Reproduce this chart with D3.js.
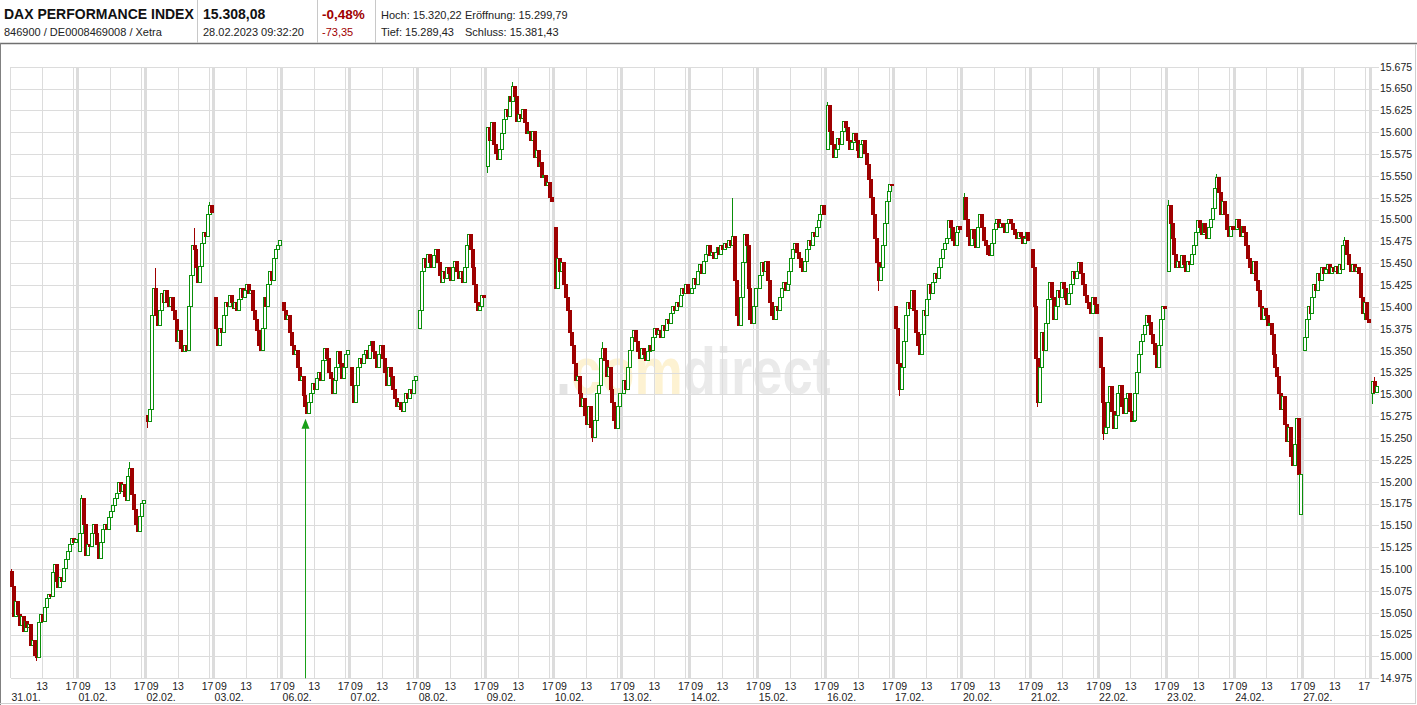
<!DOCTYPE html>
<html><head><meta charset="utf-8">
<script src="https://cdn.jsdelivr.net/npm/d3@7"></script>
<style>
html,body{margin:0;padding:0;background:#fff;}
svg{display:block;font-family:Arial,"Liberation Sans",sans-serif;}
</style></head><body>
<svg id="c" width="1417" height="705"></svg>
<script>
// ---------------- DATA ----------------
const dayLabels = ["31.01.","01.02.","02.02.","03.02.","06.02.","07.02.","08.02.","09.02.","10.02.","13.02.","14.02.","15.02.","16.02.","17.02.","20.02.","21.02.","22.02.","23.02.","24.02.","27.02.","28.02."];
const dayOpens = [15097,15120,15275,15410,15405,15330,15375,15560,15490,15300,15415,15420,15580,15400,15500,15465,15365,15440,15488,15350,15300];
// 15-minute closes per trading day (09:00 - 17:30)
const day00 = [15080,15045,15062,15048,15035,15045,15028,15040,15032,15036,15012,15018,15000,14998,15038,15048,15040,15055,15066,15070,15068,15095,15105,15085,15078,15090,15085,15100,15110,15120,15128,15135,15130,15133];
const day01 = [15140,15180,15150,15115,15128,15125,15140,15150,15140,15128,15112,15130,15145,15150,15145,15158,15165,15172,15180,15186,15198,15188,15196,15182,15178,15205,15215,15185,15168,15150,15142,15160,15175,15178];
const day02 = [15268,15282,15390,15420,15390,15378,15395,15415,15405,15418,15405,15400,15410,15395,15385,15360,15372,15352,15348,15355,15350,15400,15435,15470,15465,15445,15428,15446,15472,15485,15480,15505,15515,15508];
const day03 = [15375,15355,15375,15370,15390,15405,15400,15412,15405,15398,15405,15395,15408,15420,15410,15418,15425,15415,15418,15395,15385,15372,15355,15350,15375,15410,15400,15425,15440,15430,15455,15465,15470,15475];
const day04 = [15395,15385,15390,15370,15355,15345,15350,15330,15315,15320,15298,15285,15278,15290,15300,15312,15305,15318,15325,15315,15338,15352,15340,15325,15318,15300,15315,15330,15348,15335,15318,15330,15345,15350];
const day05 = [15310,15290,15310,15330,15340,15335,15345,15350,15340,15355,15360,15348,15340,15330,15345,15355,15340,15325,15310,15330,15320,15305,15295,15285,15290,15282,15280,15290,15300,15295,15305,15300,15315,15320];
const day06 = [15395,15440,15455,15445,15460,15450,15445,15458,15465,15450,15435,15428,15440,15432,15445,15438,15430,15445,15452,15440,15432,15440,15428,15445,15470,15482,15465,15445,15425,15405,15395,15400,15412,15410];
const day07 = [15605,15590,15610,15585,15575,15568,15580,15598,15614,15625,15618,15640,15635,15652,15640,15612,15620,15615,15625,15610,15598,15600,15590,15600,15570,15578,15560,15565,15548,15550,15538,15542,15525,15520];
const day08 = [15420,15455,15440,15450,15425,15410,15395,15370,15355,15335,15315,15320,15300,15285,15295,15275,15265,15285,15262,15250,15270,15300,15310,15340,15352,15338,15320,15330,15305,15290,15270,15260,15285,15300];
const day09 = [15315,15305,15330,15350,15365,15372,15360,15348,15340,15352,15345,15338,15348,15355,15350,15365,15375,15368,15372,15365,15378,15372,15385,15380,15392,15400,15395,15405,15400,15412,15420,15415,15425,15415];
const day10 = [15420,15432,15425,15440,15448,15438,15452,15460,15470,15458,15462,15455,15462,15468,15460,15470,15465,15472,15468,15475,15470,15480,15430,15390,15378,15410,15450,15482,15470,15420,15385,15380,15400,15420];
const day11 = [15435,15450,15440,15452,15430,15405,15390,15385,15400,15395,15410,15420,15428,15418,15425,15440,15455,15465,15472,15462,15455,15445,15440,15452,15465,15475,15470,15485,15480,15490,15498,15505,15515,15505];
const day12 = [15630,15600,15585,15570,15580,15592,15585,15600,15612,15605,15590,15580,15588,15598,15590,15578,15570,15585,15590,15575,15562,15545,15525,15505,15478,15450,15430,15445,15470,15495,15520,15532,15540,15538];
const day13 = [15375,15335,15305,15330,15360,15390,15405,15398,15418,15395,15370,15355,15345,15368,15395,15390,15408,15425,15415,15428,15438,15432,15445,15455,15465,15472,15478,15498,15490,15475,15470,15485,15492,15488];
const day14 = [15525,15500,15480,15470,15488,15478,15468,15490,15505,15490,15475,15470,15460,15458,15472,15488,15495,15500,15490,15495,15492,15485,15495,15500,15495,15488,15482,15478,15485,15480,15472,15478,15485,15475];
const day15 = [15445,15400,15340,15290,15330,15370,15350,15380,15408,15428,15410,15385,15400,15418,15410,15428,15420,15408,15402,15415,15425,15440,15432,15440,15450,15438,15425,15412,15405,15398,15392,15410,15402,15392];
const day16 = [15330,15290,15255,15262,15290,15308,15280,15260,15275,15300,15310,15285,15278,15295,15300,15280,15268,15270,15300,15325,15345,15360,15368,15378,15390,15382,15368,15358,15345,15330,15355,15385,15400,15398];
const day17 = [15515,15495,15478,15460,15445,15452,15445,15458,15448,15440,15452,15448,15460,15470,15485,15498,15490,15482,15495,15485,15478,15490,15500,15512,15535,15548,15530,15505,15520,15505,15488,15480,15492,15488];
const day18 = [15500,15490,15480,15492,15485,15470,15455,15445,15438,15452,15430,15418,15400,15385,15398,15390,15378,15380,15368,15345,15330,15320,15300,15282,15297,15265,15245,15262,15228,15218,15242,15272,15208,15208];
const day19 = [15365,15385,15400,15392,15410,15425,15418,15438,15430,15445,15438,15442,15448,15438,15445,15440,15446,15438,15448,15442,15470,15475,15460,15448,15440,15448,15440,15445,15438,15410,15392,15405,15385,15382];
const day20 = [15314,15302,15308];
const dayCloses = [day00,day01,day02,day03,day04,day05,day06,day07,day08,day09,day10,day11,day12,day13,day14,day15,day16,day17,day18,day19,day20];
// sparse wicks: [day, candle, high, low]
const wicks = [[0,0,15100,null],[0,13,null,14995],[1,1,15185,null],[1,26,15222,null],[2,0,null,15262],[2,4,15445,null],[2,24,15490,null],[2,32,15520,null],
  [7,0,null,15553],[7,13,15658,null],[8,0,15490,null],[8,19,null,15246],[8,24,15360,null],[10,21,15525,null],[12,0,15635,null],[12,26,null,15418],
  [13,2,null,15298],[14,0,15530,null],[15,3,null,15285],[16,2,null,15248],[17,0,15522,null],[17,25,15552,null],[19,21,15480,null],[19,31,null,15385],
  [20,0,null,15289],[20,1,15320,null]];
// candles whose open differs from the previous close: [day, candle, open]
const openOverrides = [[18,33,15162]];
const yTicks = [14975,15000,15025,15050,15075,15100,15125,15150,15175,15200,15225,15250,15275,15300,15325,15350,15375,15400,15425,15450,15475,15500,15525,15550,15575,15600,15625,15650,15675];
const hourTicks = [["13",16],["17",32]];
const openLabel = "09";
const arrowMark = {day:4, slot:12, value:15272};
const headerLeft = ["DAX PERFORMANCE INDEX","846900 / DE0008469008 / Xetra"];
const headerPrice = ["15.308,08","28.02.2023 09:32:20"];
const headerChange = ["-0,48%","-73,35"];
const headerStats = [["Hoch: 15.320,22","Eröffnung: 15.299,79"],["Tief: 15.289,43","Schluss: 15.381,43"]];
const watermark = [".","com","direct"];

// ---------------- CHART ----------------
const svg = d3.select("#c");
const S = 68.04/1.9375;         // slots per day incl. overnight gap
const x = d3.scaleLinear().domain([0, 20*S]).range([10.5, 10.5 + 20*68.04]);
const y = d3.scaleLinear().domain([14975, 15675]).range([678.3, 66.7]);
const plotL = 10.5, plotR = 1379, plotT = y(15675), plotB = y(14975);
const RED = "#9e0000", GREEN = "#0a8f0a", GRID = "#dcdcdc";
const FONT = "Arial,'Liberation Sans',sans-serif";

// frame
svg.append("rect").attr("x",0).attr("y",0).attr("width",1417).attr("height",705).attr("fill","#fff");
svg.append("line").attr("x1",0).attr("x2",1417).attr("y1",43.5).attr("y2",43.5).attr("stroke","#707070").attr("stroke-width",1.5);
svg.append("line").attr("x1",0.5).attr("x2",0.5).attr("y1",43).attr("y2",705).attr("stroke","#808080");
svg.append("line").attr("x1",1415.5).attr("x2",1415.5).attr("y1",44).attr("y2",704).attr("stroke","#d0d0d0");
svg.append("line").attr("x1",0).attr("x2",1416).attr("y1",703.5).attr("y2",703.5).attr("stroke","#d0d0d0");

// header
const hd = svg.append("g");
[197.5,317.5,375.5].forEach(px=>hd.append("line").attr("x1",px).attr("x2",px).attr("y1",0).attr("y2",43).attr("stroke","#c8c8c8"));
hd.append("text").attr("x",4).attr("y",19).attr("font-size",14).attr("font-weight","bold").attr("fill","#111").text(headerLeft[0]);
hd.append("text").attr("x",4).attr("y",36).attr("font-size",11).attr("fill","#222").text(headerLeft[1]);
hd.append("text").attr("x",203).attr("y",19).attr("font-size",14).attr("font-weight","bold").attr("fill","#111").text(headerPrice[0]);
hd.append("text").attr("x",203).attr("y",36).attr("font-size",11).attr("fill","#222").text(headerPrice[1]);
hd.append("text").attr("x",322).attr("y",19).attr("font-size",13.5).attr("font-weight","bold").attr("fill","#a00000").text(headerChange[0]);
hd.append("text").attr("x",322).attr("y",36).attr("font-size",11).attr("fill","#a00000").text(headerChange[1]);
headerStats.forEach((row,i)=>{
  hd.append("text").attr("x",381).attr("y",19+17*i).attr("font-size",11).attr("fill","#222").text(row[0]);
  hd.append("text").attr("x",465).attr("y",19+17*i).attr("font-size",11).attr("fill","#222").text(row[1]);
});

// watermark: three horizontally condensed pieces laid side by side
const wmX = [556, 571.1, 682.8], wmFill = ["#e4e4e4","#fdf2d2","#eaeaea"];
watermark.forEach((t,i)=>{
  svg.append("text").attr("transform",`translate(${wmX[i]},394) scale(0.823,1)`)
    .attr("font-size",66).attr("font-weight","bold").attr("fill",wmFill[i]).text(t);
});

// grid
const grid = svg.append("g").attr("shape-rendering","crispEdges");
yTicks.forEach(v=>{
  const py = Math.round(y(v))+0.5;
  grid.append("line").attr("x1",plotL).attr("x2",plotR).attr("y1",py).attr("y2",py).attr("stroke",GRID);
});
grid.append("line").attr("x1",plotL).attr("x2",plotL).attr("y1",plotT).attr("y2",plotB).attr("stroke",GRID);
for (let d=0; d<20; d++){
  hourTicks.forEach(([lab,slot])=>{
    const px = Math.round(x(d*S+slot))+0.5;
    grid.append("line").attr("x1",px).attr("x2",px).attr("y1",plotT).attr("y2",plotB).attr("stroke",GRID);
  });
  const bc = x(d*S + 34 + (S-34)/2);
  grid.append("rect").attr("x",Math.round(bc-1.5)).attr("y",plotT).attr("width",3).attr("height",plotB-plotT).attr("fill",GRID);
}

// candles
const candles = [];
dayCloses.forEach((cl,d)=>{
  let prev = dayOpens[d];
  cl.forEach((c,k)=>{ candles.push({d,k,open:prev,close:c,high:null,low:null}); prev = c; });
});
const find = (d,k)=>candles.find(c=>c.d===d&&c.k===k);
openOverrides.forEach(([d,k,o])=>{ const c=find(d,k); if(c) c.open=o; });
wicks.forEach(([d,k,h,l])=>{ const c=find(d,k); if(c){ c.high=h; c.low=l; } });

const cg = svg.append("g").attr("shape-rendering","crispEdges");
candles.forEach(c=>{
  const px = Math.floor(x(c.d*S + c.k + 0.5));
  const up = c.close >= c.open;
  const col = up ? GREEN : RED;
  const top = Math.round(y(Math.max(c.open,c.close)));
  const bot = Math.round(y(Math.min(c.open,c.close)));
  if (c.high!==null || c.low!==null){
    const hi = c.high!==null ? c.high : Math.max(c.open,c.close);
    const lo = c.low!==null ? c.low : Math.min(c.open,c.close);
    cg.append("line").attr("x1",px+0.5).attr("x2",px+0.5).attr("y1",Math.round(y(hi))).attr("y2",Math.round(y(lo))).attr("stroke",col);
  }
  const h = bot - top;
  if (!up){
    cg.append("rect").attr("x",px-1).attr("y",top-1).attr("width",4).attr("height",Math.max(2,h+1)).attr("fill",RED);
  } else if (h < 3){
    cg.append("rect").attr("x",px-1).attr("y",top-1).attr("width",4).attr("height",Math.max(2,h+1)).attr("fill",GREEN);
  } else {
    cg.append("rect").attr("x",px-0.5).attr("y",top-0.5).attr("width",3).attr("height",h).attr("fill","#fff").attr("stroke",GREEN).attr("stroke-width",1);
  }
});

// arrow
const ax = Math.floor(x(arrowMark.day*S + arrowMark.slot))+0.5;
const ay = y(arrowMark.value);
svg.append("line").attr("x1",ax).attr("x2",ax).attr("y1",plotB).attr("y2",ay+8).attr("stroke","#18a018").attr("stroke-width",1);
svg.append("path").attr("d",`M${ax},${ay} L${ax-4},${ay+10} L${ax+4},${ay+10} Z`).attr("fill","#18a018");

// axes
const loc = d3.formatLocale({decimal:",",thousands:".",grouping:[3],currency:["","€"]});
const fmt = loc.format(",d");
const ya = svg.append("g").attr("transform","translate(1379,0)")
  .call(d3.axisRight(y).tickValues(yTicks).tickFormat(fmt).tickSize(0).tickPadding(1));
ya.select(".domain").remove();
ya.selectAll("text").attr("font-size",10.5).attr("fill","#222").attr("font-family",FONT);

const hourVals = [], hourLab = new Map();
for (let d=0; d<20; d++) hourTicks.forEach(([lab,slot])=>{ const t=d*S+slot-(lab==="17"?0.8:0); hourVals.push(t); hourLab.set(t,lab); });
const xa1 = svg.append("g").attr("transform","translate(0,683)")
  .call(d3.axisBottom(x).tickValues(hourVals).tickFormat(t=>hourLab.get(t)).tickSize(0).tickPadding(0));
xa1.select(".domain").remove();
xa1.selectAll("text").attr("font-size",10.5).attr("fill","#222").attr("font-family",FONT);

const bandVals = d3.range(1,20).map(d=>(d-1)*S + 34 + (S-34)/2);
const xa2 = svg.append("g").attr("transform","translate(1,683)")
  .call(d3.axisBottom(x).tickValues(bandVals).tickFormat(()=>openLabel).tickSize(0).tickPadding(0));
xa2.select(".domain").remove();
xa2.selectAll("text").attr("text-anchor","start").attr("font-size",10.5).attr("fill","#222").attr("font-family",FONT);

const dateVals = [0].concat(bandVals);
const xa3 = svg.append("g").attr("transform","translate(0.5,694)")
  .call(d3.axisBottom(x).tickValues(dateVals).tickFormat((t,i)=>dayLabels[i]).tickSize(0).tickPadding(0));
xa3.select(".domain").remove();
xa3.selectAll("text").attr("text-anchor","start").attr("font-size",10.5).attr("fill","#222").attr("font-family",FONT);
</script>
</body></html>
